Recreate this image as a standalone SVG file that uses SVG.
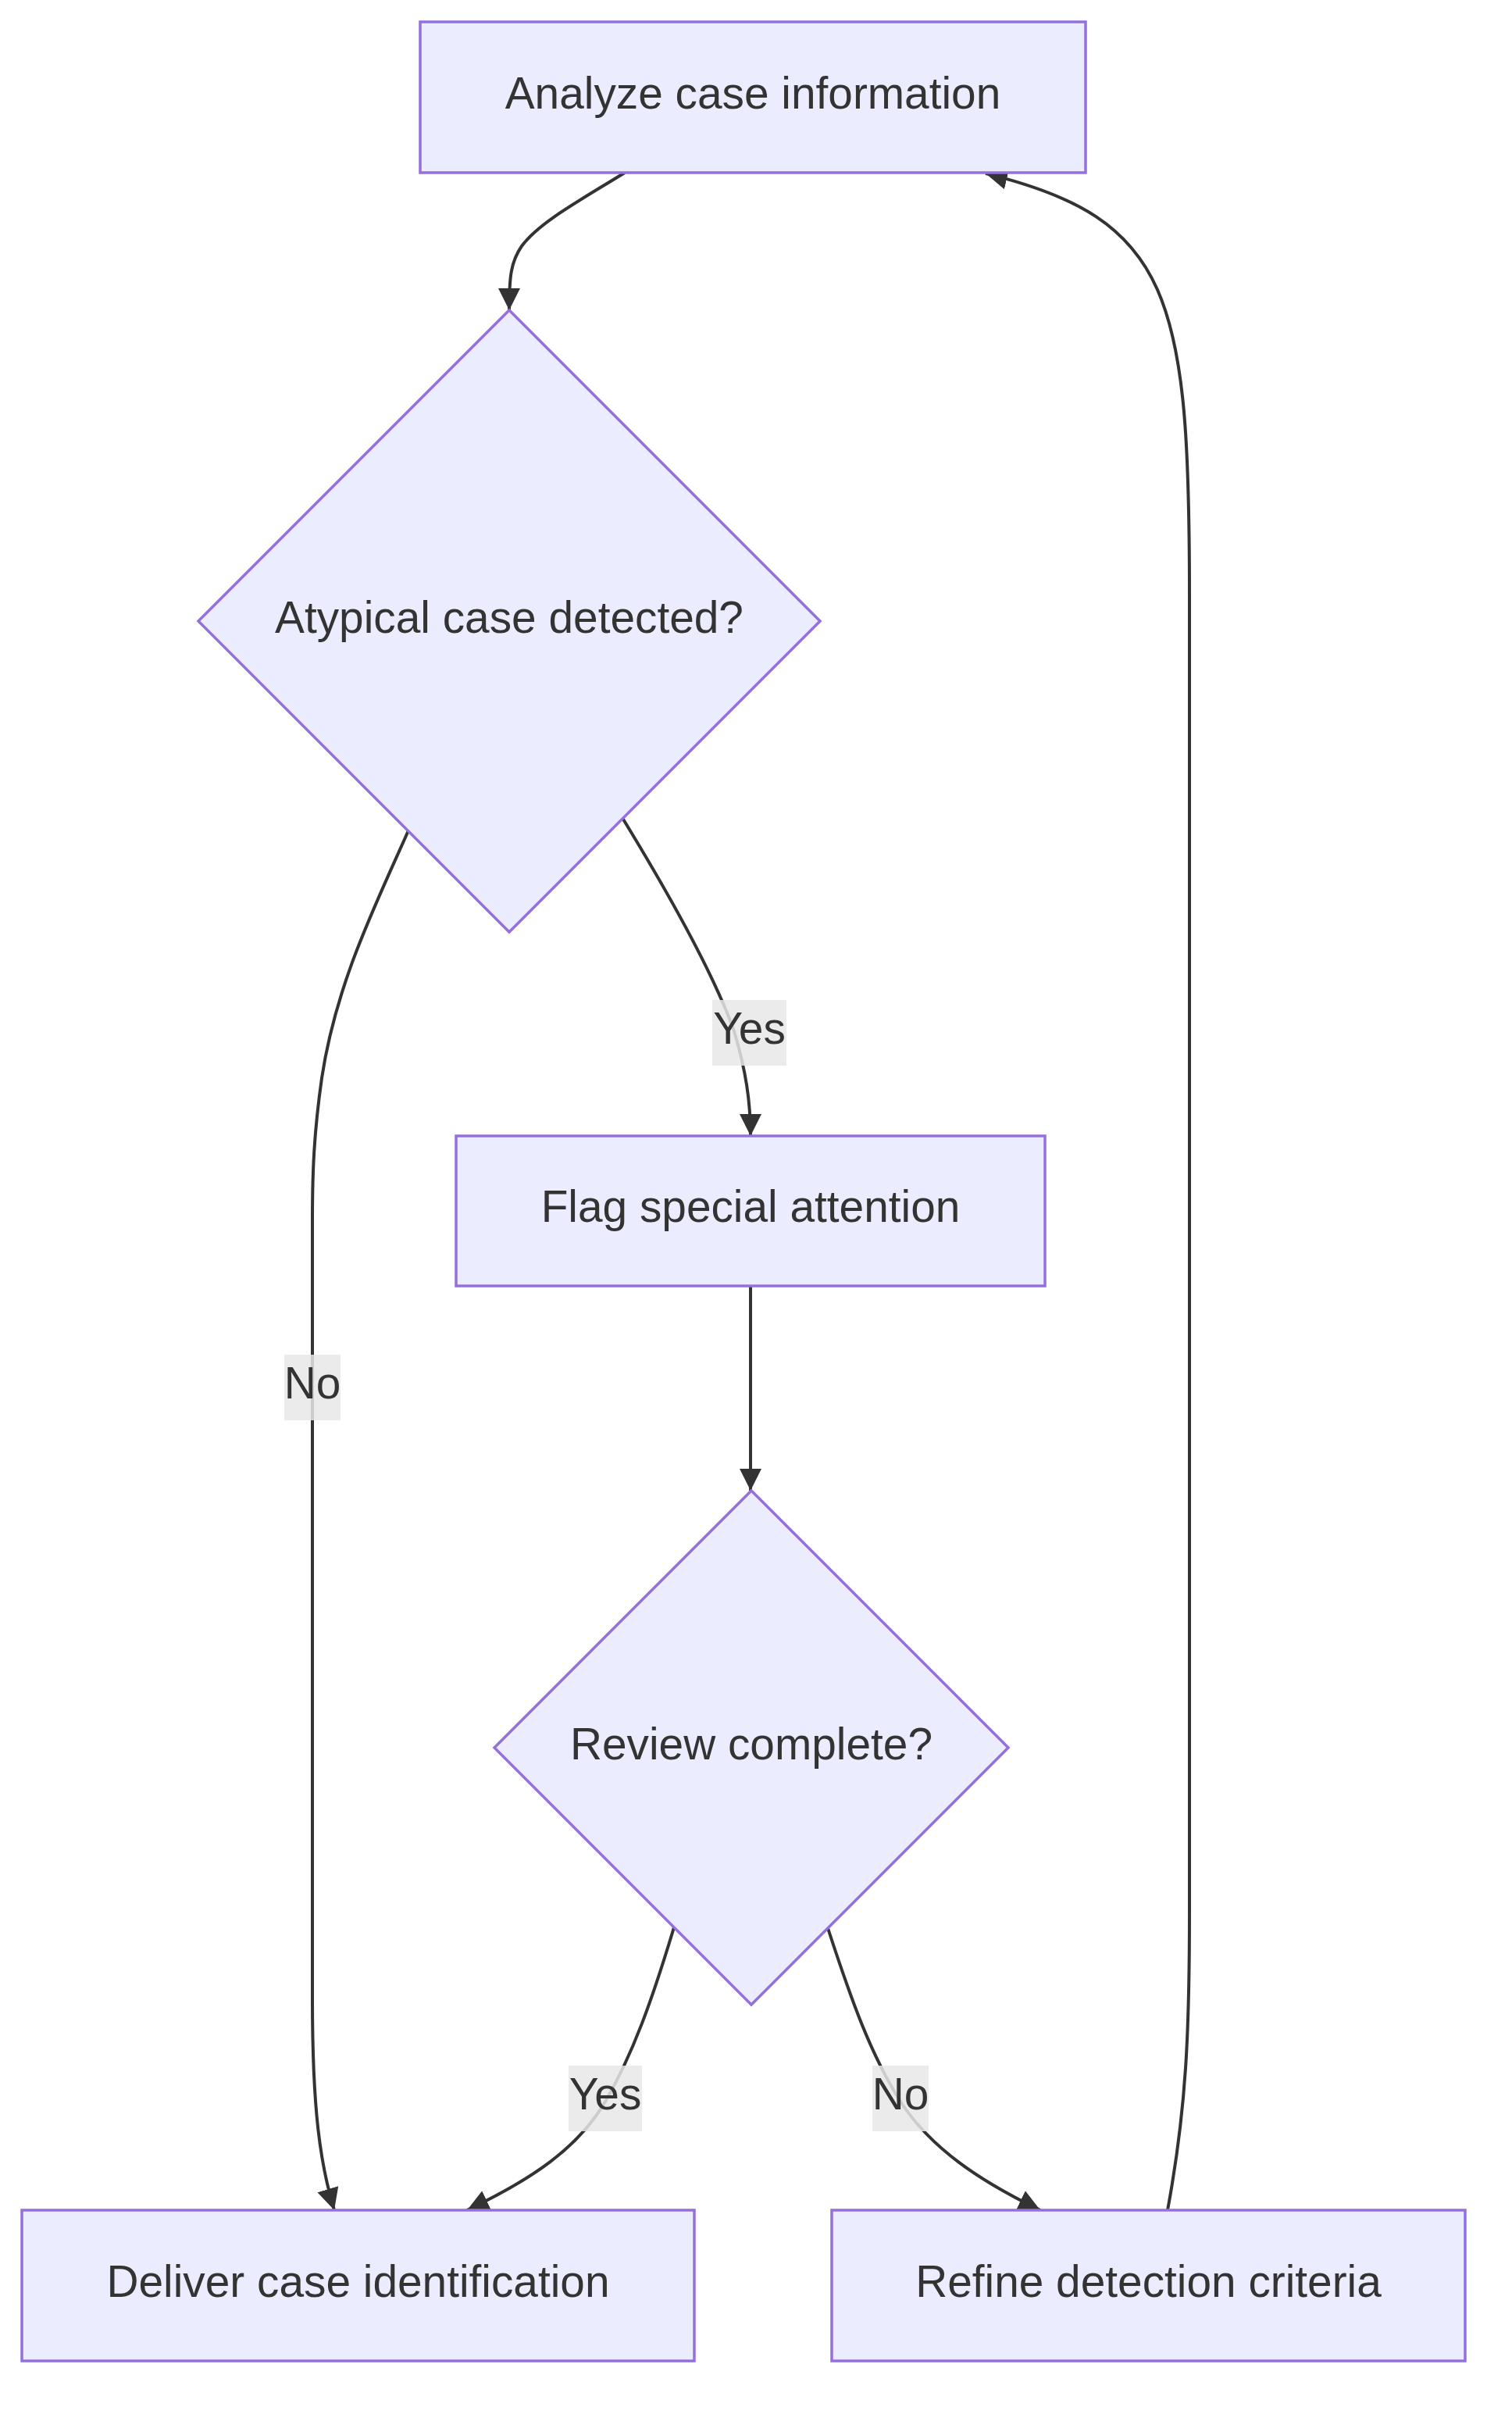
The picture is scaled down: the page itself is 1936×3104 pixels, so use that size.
<svg xmlns="http://www.w3.org/2000/svg" width="1936" height="3104" viewBox="0 0 1936 3104">
<style>
.node rect,.node polygon{fill:#ECECFF;stroke:#9370DB;stroke-width:3.5}
.lbl{font-family:"Liberation Sans",Arial,sans-serif;font-size:56.8px;fill:#333333;text-anchor:middle}
.edge{fill:none;stroke:#333333;stroke-width:4}
.elbg{fill:#e8e8e8;fill-opacity:0.85}
</style>
<defs>
<marker id="arrow" viewBox="0 0 10 10" refX="10" refY="5" markerWidth="28" markerHeight="28" markerUnits="userSpaceOnUse" orient="auto">
<path d="M0,0 L10,5 L0,10 z" fill="#333333"/>
</marker>
</defs>
<rect width="1936" height="3104" fill="#ffffff"/>
<g id="connectors">
<path class="edge" marker-end="url(#arrow)" d="M800,221 C740,258 690,285 668,315 C654,335 652,355 652,397"/>
<path class="edge" marker-end="url(#arrow)" d="M797,1047 C860,1150 915,1250 940,1320 C955,1370 961,1410 961,1454"/>
<path class="edge" marker-end="url(#arrow)" d="M523,1063 C480,1160 430,1260 412,1380 C402,1450 400,1500 400,1560 L400,2560 C400,2700 410,2770 428,2829"/>
<path class="edge" marker-end="url(#arrow)" d="M961,1646 L961,1908"/>
<path class="edge" marker-end="url(#arrow)" d="M863,2467 C835,2560 810,2630 775,2690 C740,2750 680,2790 598,2829"/>
<path class="edge" marker-end="url(#arrow)" d="M1060,2468 C1090,2560 1115,2630 1153,2690 C1192,2750 1255,2792 1332,2829"/>
<path class="edge" marker-end="url(#arrow)" d="M1495,2829 C1519,2700 1523,2600 1523,2450 L1523,760 C1523,380 1500,280 1262,222"/>
</g>
<g id="edge-labels">
<g id="label-yes-1"><rect class="elbg" x="912" y="1280" width="95" height="84"/><text class="lbl" x="959.5" y="1336">Yes</text></g>
<g id="label-no-1"><rect class="elbg" x="364" y="1734" width="72" height="84"/><text class="lbl" x="400" y="1790">No</text></g>
<g id="label-yes-2"><rect class="elbg" x="728" y="2644" width="94" height="84"/><text class="lbl" x="775" y="2700">Yes</text></g>
<g id="label-no-2"><rect class="elbg" x="1117" y="2644" width="72" height="84"/><text class="lbl" x="1153" y="2700">No</text></g>
</g>
<g id="analyze" class="node"><rect x="538" y="28" width="852" height="193"/><text class="lbl" x="964" y="138.5">Analyze case information</text></g>
<g id="atypical" class="node"><polygon points="652,397 1050,795 652,1193 254,795"/><text class="lbl" x="652" y="809.5">Atypical case detected?</text></g>
<g id="flag" class="node"><rect x="584" y="1454" width="754" height="192"/><text class="lbl" x="961" y="1564">Flag special attention</text></g>
<g id="review" class="node"><polygon points="962,1908 1291,2237 962,2566 633,2237"/><text class="lbl" x="962" y="2251.5">Review complete?</text></g>
<g id="deliver" class="node"><rect x="28" y="2829" width="861" height="193"/><text class="lbl" x="458.5" y="2939.5">Deliver case identification</text></g>
<g id="refine" class="node"><rect x="1065" y="2829" width="811" height="193"/><text class="lbl" x="1470.5" y="2939.5">Refine detection criteria</text></g>
</svg>
